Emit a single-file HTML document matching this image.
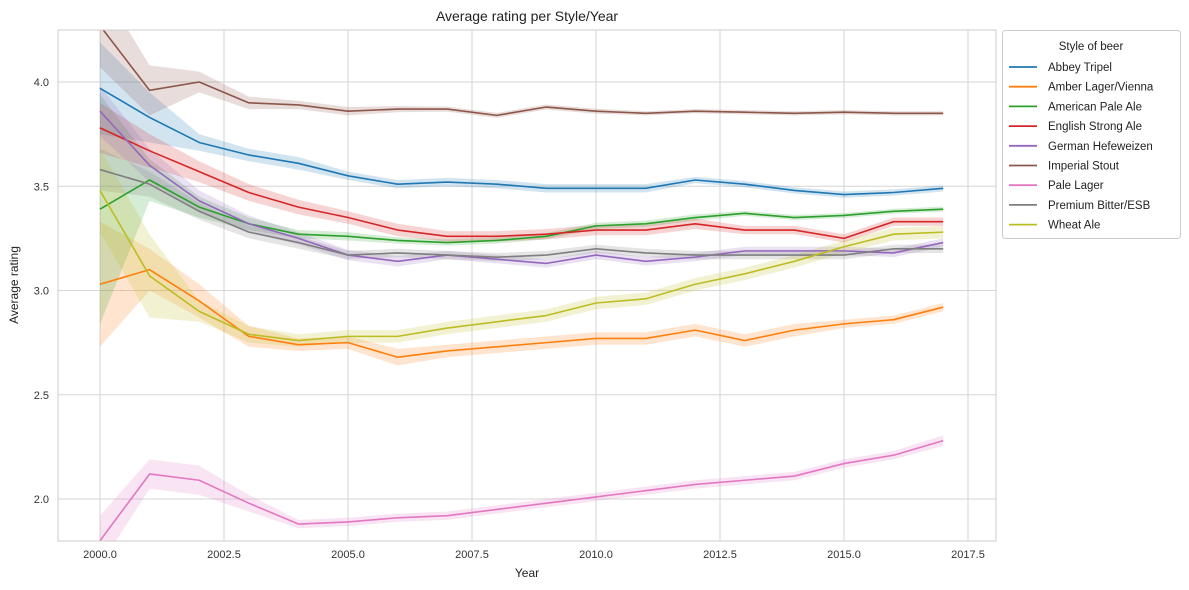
<!DOCTYPE html>
<html><head><meta charset="utf-8">
<style>
html,body{margin:0;padding:0;background:#fff;}
svg{display:block;font-family:"Liberation Sans",Arial,sans-serif;}
</style></head>
<body>
<svg id="chart" width="1189" height="590" viewBox="0 0 1189 590">
<defs><clipPath id="plotclip"><rect x="58" y="30" width="938" height="511"/></clipPath></defs>
<g id="grid"></g>
<g id="bands" clip-path="url(#plotclip)"></g>
<g id="lines" clip-path="url(#plotclip)"></g>
<rect x="58" y="30" width="938" height="511" fill="none" stroke="#cccccc" stroke-width="1"/>
<g id="ticks"></g>
<text x="527" y="21" text-anchor="middle" font-size="14" fill="#222">Average rating per Style/Year</text>
<text x="527" y="577" text-anchor="middle" font-size="12" fill="#222">Year</text>
<text x="18" y="285" text-anchor="middle" font-size="12" fill="#222" transform="rotate(-90 18 285)">Average rating</text>
<g id="legend"></g>
</svg>
<script>
const years = [2000,2001,2002,2003,2004,2005,2006,2007,2008,2009,2010,2011,2012,2013,2014,2015,2016,2017];
const seriesNames = ["Abbey Tripel","Amber Lager/Vienna","American Pale Ale","English Strong Ale","German Hefeweizen","Imperial Stout","Pale Lager","Premium Bitter/ESB","Wheat Ale"];
const seriesColors = ["#1f77b4","#ff7f0e","#2ca02c","#d62728","#9467bd","#8c564b","#e377c2","#7f7f7f","#bcbd22"];
const abbeyTripel = [3.97,3.83,3.71,3.65,3.61,3.55,3.51,3.52,3.51,3.49,3.49,3.49,3.53,3.51,3.48,3.46,3.47,3.49];
const amberLager = [3.03,3.10,2.95,2.78,2.74,2.75,2.68,2.71,2.73,2.75,2.77,2.77,2.81,2.76,2.81,2.84,2.86,2.92];
const americanPaleAle = [3.39,3.53,3.40,3.32,3.27,3.26,3.24,3.23,3.24,3.26,3.31,3.32,3.35,3.37,3.35,3.36,3.38,3.39];
const englishStrongAle = [3.78,3.67,3.57,3.47,3.40,3.35,3.29,3.26,3.26,3.27,3.29,3.29,3.32,3.29,3.29,3.25,3.33,3.33];
const germanHefeweizen = [3.86,3.60,3.43,3.32,3.25,3.17,3.14,3.17,3.15,3.13,3.17,3.14,3.16,3.19,3.19,3.19,3.18,3.23];
const imperialStout = [4.27,3.96,4.00,3.90,3.89,3.86,3.87,3.87,3.84,3.88,3.86,3.85,3.86,3.855,3.85,3.855,3.85,3.85];
const paleLager = [1.80,2.12,2.09,1.98,1.88,1.89,1.91,1.92,1.95,1.98,2.01,2.04,2.07,2.09,2.11,2.17,2.21,2.28];
const premiumBitter = [3.58,3.51,3.38,3.28,3.23,3.17,3.18,3.17,3.16,3.17,3.20,3.18,3.17,3.17,3.17,3.17,3.20,3.20];
const wheatAle = [3.48,3.07,2.90,2.79,2.76,2.78,2.78,2.82,2.85,2.88,2.94,2.96,3.03,3.08,3.14,3.21,3.27,3.28];
const abbeyErr = [0.22,0.12,0.04,0.03,0.03,0.02,0.02,0.02,0.02,0.02,0.02,0.02,0.015,0.015,0.015,0.015,0.015,0.015];
const amberErr = [0.30,0.10,0.08,0.05,0.03,0.03,0.04,0.03,0.03,0.03,0.03,0.03,0.03,0.03,0.03,0.02,0.02,0.02];
const apaErr = [0.55,0.10,0.05,0.03,0.02,0.02,0.015,0.015,0.015,0.015,0.015,0.015,0.015,0.012,0.012,0.012,0.012,0.012];
const esaErr = [0.12,0.08,0.05,0.04,0.035,0.03,0.03,0.025,0.025,0.025,0.025,0.025,0.025,0.02,0.02,0.02,0.02,0.02];
const hefeErr = [0.12,0.08,0.05,0.04,0.03,0.025,0.025,0.02,0.02,0.02,0.02,0.02,0.02,0.02,0.02,0.02,0.02,0.02];
const stoutErr = [0.20,0.12,0.05,0.03,0.02,0.02,0.015,0.012,0.012,0.012,0.012,0.01,0.01,0.01,0.01,0.01,0.01,0.01];
const lagerErr = [0.12,0.07,0.07,0.04,0.02,0.02,0.02,0.02,0.02,0.02,0.02,0.02,0.02,0.02,0.02,0.02,0.02,0.025];
const bitterErr = [0.10,0.06,0.04,0.03,0.03,0.02,0.02,0.02,0.02,0.02,0.02,0.02,0.02,0.02,0.02,0.02,0.02,0.02];
const wheatErr = [0.20,0.20,0.05,0.04,0.03,0.03,0.03,0.03,0.03,0.03,0.03,0.03,0.03,0.03,0.03,0.03,0.03,0.03];
const seriesValues = [abbeyTripel,amberLager,americanPaleAle,englishStrongAle,germanHefeweizen,imperialStout,paleLager,premiumBitter,wheatAle];
const seriesErrors = [abbeyErr,amberErr,apaErr,esaErr,hefeErr,stoutErr,lagerErr,bitterErr,wheatErr];
const xTicks = [2000,2002.5,2005,2007.5,2010,2012.5,2015,2017.5];
const xTickLabels = ["2000.0","2002.5","2005.0","2007.5","2010.0","2012.5","2015.0","2017.5"];
const yTicks = [2.0,2.5,3.0,3.5,4.0];
const yTickLabels = ["2.0","2.5","3.0","3.5","4.0"];

const NS = "http://www.w3.org/2000/svg";
function xs(v){ return 100 + (v-2000)*(868/17.5); }
function ys(v){ return 499 - (v-2.0)*(417/2.0); }
function mk(tag, attrs, parent){ const e=document.createElementNS(NS,tag); for(const k in attrs) e.setAttribute(k,attrs[k]); parent.appendChild(e); return e; }
const grid=document.getElementById('grid'), ticks=document.getElementById('ticks');
xTicks.forEach((t,i)=>{
  const l=mk('line',{x1:xs(t),x2:xs(t),y1:30,y2:541,stroke:'#d6d6d6','stroke-width':1},grid);
  
  
  const tx=mk('text',{x:xs(t),y:558,'text-anchor':'middle','font-size':11,fill:'#333'},ticks);
  tx.textContent=xTickLabels[i];
  
  
});
yTicks.forEach((t,i)=>{
  const l=mk('line',{x1:58,x2:996,y1:ys(t),y2:ys(t),stroke:'#d6d6d6','stroke-width':1},grid);
  
  
  const tx=mk('text',{x:49,y:ys(t)+4,'text-anchor':'end','font-size':11,fill:'#333'},ticks);
  tx.textContent=yTickLabels[i];
  
  
});
const bands=document.getElementById('bands'), lines=document.getElementById('lines');
seriesValues.forEach((vals,s)=>{
  const err=seriesErrors[s];
  let up=vals.map((v,i)=>xs(years[i])+','+ys(v+err[i]));
  let dn=vals.map((v,i)=>xs(years[i])+','+ys(v-err[i])).reverse();
  const b=mk('polygon',{points:up.concat(dn).join(' '),fill:seriesColors[s],'fill-opacity':0.2,stroke:'none'},bands);
  
  
});
seriesValues.forEach((vals,s)=>{
  const p=mk('polyline',{points:vals.map((v,i)=>xs(years[i])+','+ys(v)).join(' '),fill:'none',stroke:seriesColors[s],'stroke-width':1.6,'stroke-linejoin':'round'},lines);
  
  
});
const lg=document.getElementById('legend');
const box=mk('rect',{x:1002.5,y:30.5,width:178,height:208,rx:3,fill:'#fff',stroke:'#cccccc'},lg);


const lt=mk('text',{x:1091,y:50,'text-anchor':'middle','font-size':11.5,fill:'#222'},lg);
lt.textContent='Style of beer';


seriesNames.forEach((n,i)=>{
  const y=67+i*19.7;
  const g=mk('g',{},lg);
  
  
  mk('line',{x1:1009,x2:1037,y1:y,y2:y,stroke:seriesColors[i],'stroke-width':1.8},g);
  const t=mk('text',{x:1048,y:y+4,'font-size':11.5,fill:'#222'},g);
  t.textContent=n;
});
</script>
</body></html>
